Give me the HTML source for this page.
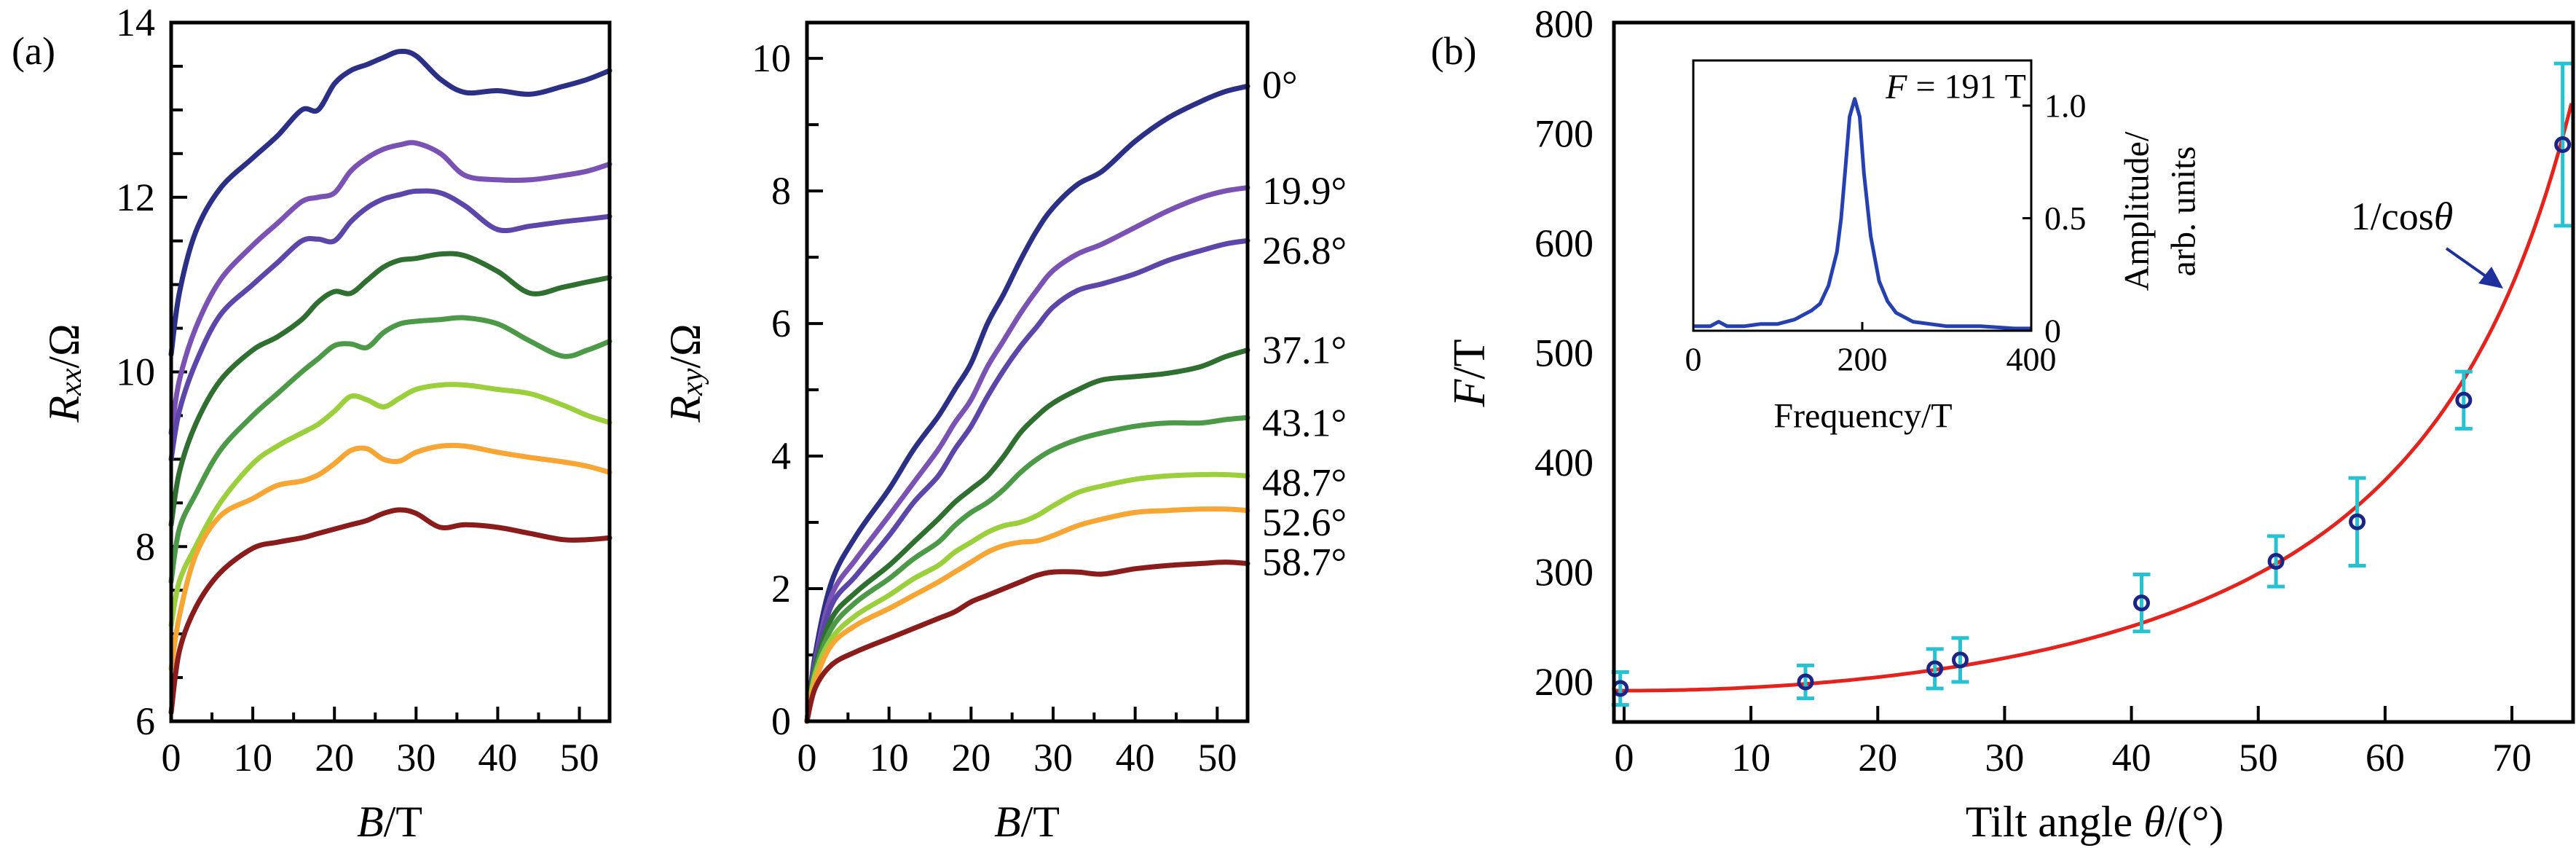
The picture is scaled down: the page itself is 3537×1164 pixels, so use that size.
<!DOCTYPE html>
<html><head><meta charset="utf-8">
<style>
html,body{margin:0;padding:0;background:#fff;}
svg{display:block;}
text{font-family:"Liberation Serif",serif;fill:#000;}
</style></head>
<body>
<svg id="fig" width="3537" height="1164" viewBox="0 0 3537 1164" xmlns="http://www.w3.org/2000/svg"></svg>
<script>
// ---------- data ----------
const fieldB = [0,1,3,6,10,13,16,18,20,22,24,26,28,30,33,36,40,44,48,51,53.7];
const seriesColors = ["#2b2f85","#7a52b4","#5c46aa","#2f6f30","#4c9a48","#9ccf3c","#f7a533","#8a1c1c"];
const angleLabels = ["0°","19.9°","26.8°","37.1°","43.1°","48.7°","52.6°","58.7°"];
const angleLabelY = [9.6,8.0,7.1,5.6,4.5,3.6,3.0,2.4];
const rxxBlue   = [10.2,10.9,11.6,12.1,12.45,12.7,13.0,13.0,13.3,13.45,13.52,13.6,13.67,13.62,13.35,13.2,13.22,13.18,13.27,13.35,13.45];
const rxxPurple = [9.3,9.9,10.5,11.05,11.45,11.7,11.95,12.0,12.05,12.3,12.45,12.55,12.6,12.62,12.5,12.25,12.2,12.2,12.25,12.3,12.38];
const rxxViolet = [9.0,9.55,10.1,10.65,11.0,11.25,11.5,11.52,11.5,11.72,11.88,11.98,12.03,12.07,12.05,11.9,11.63,11.67,11.72,11.75,11.78];
const rxxDkGreen= [8.25,8.85,9.4,9.9,10.25,10.4,10.6,10.8,10.92,10.9,11.05,11.2,11.28,11.3,11.35,11.33,11.15,10.9,10.97,11.03,11.08];
const rxxGreen  = [7.6,8.2,8.6,9.1,9.5,9.75,10.0,10.15,10.3,10.32,10.28,10.45,10.55,10.58,10.6,10.62,10.55,10.35,10.18,10.25,10.35];
const rxxLime   = [7.1,7.6,8.0,8.5,8.95,9.15,9.3,9.4,9.55,9.72,9.68,9.6,9.7,9.8,9.85,9.85,9.8,9.75,9.62,9.5,9.42];
const rxxOrange = [6.6,7.2,7.9,8.35,8.55,8.7,8.75,8.82,8.95,9.1,9.12,9.0,8.98,9.08,9.15,9.15,9.08,9.02,8.97,8.92,8.85];
const rxxRed    = [6.1,6.8,7.3,7.7,7.98,8.05,8.1,8.15,8.2,8.25,8.3,8.38,8.42,8.38,8.22,8.25,8.22,8.15,8.08,8.08,8.1];
const rxyBlue   = [0,1.0,2.1,2.8,3.5,4.1,4.6,5.0,5.4,6.0,6.45,6.95,7.4,7.75,8.1,8.3,8.75,9.1,9.35,9.5,9.58];
const rxyPurple = [0,0.9,1.9,2.45,3.1,3.6,4.1,4.5,4.85,5.35,5.75,6.15,6.5,6.8,7.05,7.2,7.45,7.7,7.9,8.0,8.05];
const rxyViolet = [0,0.85,1.75,2.2,2.8,3.3,3.7,4.1,4.45,4.9,5.3,5.65,5.95,6.25,6.5,6.6,6.75,6.95,7.1,7.2,7.25];
const rxyDkGreen= [0,0.8,1.55,1.95,2.35,2.7,3.05,3.3,3.5,3.7,4.0,4.35,4.6,4.8,5.0,5.15,5.2,5.25,5.35,5.5,5.6];
const rxyGreen  = [0,0.75,1.4,1.8,2.15,2.45,2.7,2.95,3.15,3.3,3.5,3.75,3.95,4.1,4.25,4.35,4.45,4.5,4.5,4.55,4.58];
const rxyLime   = [0,0.7,1.25,1.6,1.9,2.15,2.35,2.55,2.7,2.85,2.95,3.0,3.1,3.25,3.45,3.55,3.65,3.7,3.72,3.72,3.7];
const rxyOrange = [0,0.6,1.15,1.45,1.7,1.9,2.1,2.25,2.4,2.55,2.65,2.7,2.72,2.8,2.95,3.05,3.15,3.18,3.2,3.2,3.18];
const rxyRed    = [0,0.5,0.85,1.05,1.25,1.4,1.55,1.65,1.8,1.9,2.0,2.1,2.2,2.25,2.25,2.22,2.3,2.35,2.38,2.4,2.38];
const tiltAngle = [-0.3,14.3,24.5,26.5,40.8,51.4,57.8,66.2,74.0];
const freqF     = [194,200,212,220,272,310,346,457,690];
const freqErr   = [15,15,18,20,26,23,40,26,74];
const fitF0 = 192;
const insetFreq = [0,20,30,40,60,80,100,120,140,150,160,170,175,180,185,191,197,202,210,220,230,240,260,280,300,340,380,400];
const insetAmp  = [0.02,0.02,0.04,0.02,0.02,0.03,0.03,0.05,0.09,0.12,0.2,0.35,0.5,0.72,0.95,1.03,0.95,0.7,0.42,0.22,0.13,0.08,0.04,0.03,0.02,0.02,0.01,0.01];

const rxxSeries=[rxxBlue,rxxPurple,rxxViolet,rxxDkGreen,rxxGreen,rxxLime,rxxOrange,rxxRed];
const rxySeries=[rxyBlue,rxyPurple,rxyViolet,rxyDkGreen,rxyGreen,rxyLime,rxyOrange,rxyRed];

// ---------- helpers ----------
const NS="http://www.w3.org/2000/svg";
const svg=document.getElementById('fig');
function mk(tag,attrs,parent){const e=document.createElementNS(NS,tag);for(const k in attrs)e.setAttribute(k,attrs[k]);(parent||svg).appendChild(e);return e;}
function txt(s,x,y,size,anchor,parent,style){const t=mk('text',{x:x,y:y,'font-size':size,'text-anchor':anchor||'middle','dominant-baseline':'central'},parent);if(style)t.setAttribute('style',style);t.textContent=s;return t;}
function lin(d0,d1,p0,p1){return v=>p0+(v-d0)*(p1-p0)/(d1-d0);}
function smooth(pts){let d='M'+pts[0][0].toFixed(1)+','+pts[0][1].toFixed(1);
 for(let i=0;i<pts.length-1;i++){const p0=pts[i-1]||pts[i],p1=pts[i],p2=pts[i+1],p3=pts[i+2]||p2;
 const c1=[p1[0]+(p2[0]-p0[0])/6,p1[1]+(p2[1]-p0[1])/6],c2=[p2[0]-(p3[0]-p1[0])/6,p2[1]-(p3[1]-p1[1])/6];
 d+=' C'+c1[0].toFixed(1)+','+c1[1].toFixed(1)+' '+c2[0].toFixed(1)+','+c2[1].toFixed(1)+' '+p2[0].toFixed(1)+','+p2[1].toFixed(1);}return d;}

// ---------- panel a1: Rxx ----------
(function(){
 const L=235,R=837,T=31,B=990;
 const X=lin(0,53.7,L,R),Y=lin(6,14,B,T);
 const g=mk('g',{});
 
 for(let v=6;v<=14.001;v+=0.5){const major=Math.abs(v-Math.round(v/2)*2)<1e-6;const tk=mk('line',{x1:L,x2:L+(major?22:16),y1:Y(v),y2:Y(v),stroke:'#000','stroke-width':4},g);
  
  if(major){const t=txt(String(Math.round(v)),L-22,Y(v),54,'end',g);}}
 for(let v=0;v<=50;v+=5){const major=v%10===0;const tk=mk('line',{x1:X(v),x2:X(v),y1:B,y2:B-(major?20:12),stroke:'#000','stroke-width':4},g);
  
  if(major){const t=txt(String(v),X(v),1040,54,'middle',g);}}
 rxxSeries.forEach((s,i)=>{const p=mk('path',{d:smooth(s.map((v,j)=>[X(fieldB[j]),Y(v)])),fill:'none',stroke:seriesColors[i],'stroke-width':7,'stroke-linejoin':'round','stroke-linecap':'round'},g);
  });
 const fr=mk('rect',{x:L,y:T,width:R-L,height:B-T,fill:'none',stroke:'#000','stroke-width':5},g);
 
 const yl=mk('text',{x:0,y:0,'font-size':60,'text-anchor':'middle','dominant-baseline':'central',transform:'translate(88,512) rotate(-90)'},g);
 yl.innerHTML='<tspan font-style="italic">R</tspan><tspan font-style="italic" font-size="42" dy="10">xx</tspan><tspan dy="-10">/Ω</tspan>';
 
 const xl=mk('text',{x:535,y:1128,'font-size':60,'text-anchor':'middle','dominant-baseline':'central'},g);
 xl.innerHTML='<tspan font-style="italic">B</tspan>/T';
 
 const pa=txt('(a)',46,70,54,'middle',g);
})();

// ---------- panel a2: Rxy ----------
(function(){
 const L=1108,R=1713,T=31,B=990;
 const X=lin(0,53.7,L,R),Y=lin(0,10.54,B,T);
 const g=mk('g',{});
 
 for(let v=0;v<=10;v++){const major=v%2===0;const tk=mk('line',{x1:L,x2:L+(major?22:16),y1:Y(v),y2:Y(v),stroke:'#000','stroke-width':4},g);
  
  if(major){const t=txt(String(v),L-22,Y(v),54,'end',g);}}
 for(let v=0;v<=50;v+=5){const major=v%10===0;const tk=mk('line',{x1:X(v),x2:X(v),y1:B,y2:B-(major?20:12),stroke:'#000','stroke-width':4},g);
  
  if(major){const t=txt(String(v),X(v),1040,54,'middle',g);}}
 rxySeries.forEach((s,i)=>{const p=mk('path',{d:smooth(s.map((v,j)=>[X(fieldB[j]),Y(v)])),fill:'none',stroke:seriesColors[i],'stroke-width':7,'stroke-linejoin':'round','stroke-linecap':'round'},g);
  });
 const fr=mk('rect',{x:L,y:T,width:R-L,height:B-T,fill:'none',stroke:'#000','stroke-width':5},g);
 
 angleLabels.forEach((s,i)=>{const t=txt(s,1733,Y(angleLabelY[i]),54,'start',g);
  });
 const yl=mk('text',{x:0,y:0,'font-size':60,'text-anchor':'middle','dominant-baseline':'central',transform:'translate(941,512) rotate(-90)'},g);
 yl.innerHTML='<tspan font-style="italic">R</tspan><tspan font-style="italic" font-size="42" dy="10">xy</tspan><tspan dy="-10">/Ω</tspan>';
 
 const xl=mk('text',{x:1410,y:1128,'font-size':60,'text-anchor':'middle','dominant-baseline':'central'},g);
 xl.innerHTML='<tspan font-style="italic">B</tspan>/T';
 
})();

// ---------- panel b ----------
(function(){
 const L=2216,R=3533,T=31,B=991;
 const X=lin(0,70,2230,3449),Y=lin(200,800,936,33);
 const g=mk('g',{});
 
 for(let v=0;v<=70;v+=10){const tk=mk('line',{x1:X(v),x2:X(v),y1:B,y2:B-22,stroke:'#000','stroke-width':4},g);
  
  const t=txt(String(v),X(v),1040,54,'middle',g);}
 for(let v=200;v<=800;v+=100){const t=txt(String(v),2188,Y(v),54,'end',g);}
 // fit curve
 const fit=[];for(let a=-0.8;a<=74.9;a+=0.5){fit.push([X(a),Y(fitF0/Math.cos(a*Math.PI/180))]);}
 const fp=mk('path',{d:'M'+fit.map(p=>p[0].toFixed(1)+','+p[1].toFixed(1)).join(' L'),fill:'none',stroke:'#e5221b','stroke-width':5},g);
 
 tiltAngle.forEach((a,i)=>{const x=X(a),y0=Y(freqF[i]-freqErr[i]),y1=Y(freqF[i]+freqErr[i]);
  const eb=mk('path',{d:`M${x},${y0} L${x},${y1} M${x-12},${y0} L${x+12},${y0} M${x-12},${y1} L${x+12},${y1}`,stroke:'#25c2d2','stroke-width':5,fill:'none'},g);
  
  const c=mk('circle',{cx:x,cy:Y(freqF[i]),r:9,fill:'none',stroke:'#1c2587','stroke-width':5},g);
  });
 const fr=mk('rect',{x:L,y:T,width:R-L,height:B-T,fill:'none',stroke:'#000','stroke-width':5},g);
 
 const yl=mk('text',{x:0,y:0,'font-size':62,'text-anchor':'middle','dominant-baseline':'central',transform:'translate(2018,512) rotate(-90)'},g);
 yl.innerHTML='<tspan font-style="italic">F</tspan>/T';
 
 const xl=mk('text',{x:2876,y:1128,'font-size':60,'text-anchor':'middle','dominant-baseline':'central'},g);
 xl.innerHTML='Tilt angle <tspan font-style="italic">θ</tspan>/(°)';
 
 const pb=txt('(b)',1996,70,54,'middle',g);
 const an=mk('text',{x:3298,y:297,'font-size':54,'text-anchor':'middle','dominant-baseline':'central'},g);
 an.innerHTML='1/cos<tspan font-style="italic">θ</tspan>';
 
 const ar=mk('line',{x1:3359,y1:341,x2:3420,y2:384,stroke:'#1f2f9e','stroke-width':4},g);
 
 const ah=mk('polygon',{points:'3437,396 3403,389 3421,366',fill:'#1f2f9e'},g);
 

 // inset
 const iL=2325,iR=2789,iT=83,iB=454;
 const IX=lin(0,400,iL,iR),IY=lin(0,1.0,iB,145);
 const ig=mk('g',{},g);
 
 const ip=mk('path',{d:'M'+insetFreq.map((f,j)=>IX(f).toFixed(1)+','+IY(insetAmp[j]).toFixed(1)).join(' L'),fill:'none',stroke:'#2540b0','stroke-width':5,'stroke-linejoin':'round'},ig);
 
 const ifr=mk('rect',{x:iL,y:iT,width:iR-iL,height:iB-iT,fill:'none',stroke:'#000','stroke-width':3},ig);
 
 [0,200,400].forEach(v=>{const tk=mk('line',{x1:IX(v),x2:IX(v),y1:iB,y2:iB-12,stroke:'#000','stroke-width':3},ig);
  
  const t=txt(String(v),IX(v),493,46,'middle',ig);});
 [0,0.5,1.0].forEach(v=>{const tk=mk('line',{x1:iR-12,x2:iR,y1:IY(v),y2:IY(v),stroke:'#000','stroke-width':3},ig);
  
  const t=txt(v===0?'0':v.toFixed(1),iR+18,IY(v),46,'start',ig);});
 const ixl=txt('Frequency/T',2558,571,48,'middle',ig);
 const iyl=mk('text',{x:0,y:0,'font-size':48,'text-anchor':'middle','dominant-baseline':'central',transform:'translate(2934,290) rotate(-90)'},ig);
 iyl.textContent='Amplitude/';
 const iyl2=mk('text',{x:0,y:0,'font-size':48,'text-anchor':'middle','dominant-baseline':'central',transform:'translate(2998,290) rotate(-90)'},ig);
 iyl2.textContent='arb. units';
 const pk=mk('text',{x:2782,y:119,'font-size':48,'text-anchor':'end','dominant-baseline':'central'},ig);
 pk.innerHTML='<tspan font-style="italic">F</tspan> = 191 T';
 
})();
</script>
</body></html>
